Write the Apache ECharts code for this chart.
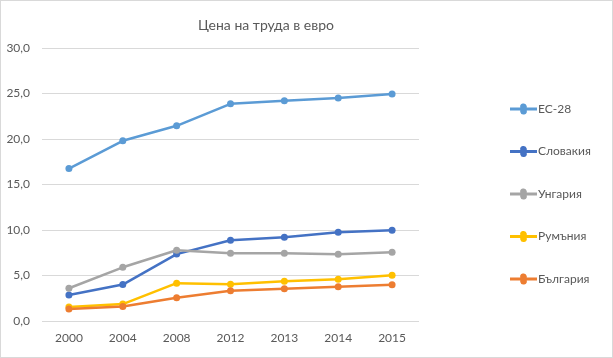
<!DOCTYPE html>
<html><head><meta charset="utf-8">
<script src="https://cdn.jsdelivr.net/npm/echarts@6/dist/echarts.min.js"></script>
<style>html,body{margin:0;padding:0;background:#fff}#c{width:613px;height:358px;box-sizing:border-box;border:1px solid #d9d9d9}</style>
</head><body><div id="c"></div>
<script>
const categories = ['2000','2004','2008','2012','2013','2014','2015'];
const seriesNames = ['ЕС-28','Словакия','Унгария','Румъния','България'];
const eu28 = [16.75, 19.8, 21.45, 23.87, 24.2, 24.5, 24.95];
const slovakia = [2.85, 4.0, 7.35, 8.87, 9.2, 9.74, 9.96];
const hungary = [3.6, 5.9, 7.77, 7.45, 7.45, 7.34, 7.55];
const romania = [1.53, 1.86, 4.16, 4.05, 4.38, 4.6, 5.04];
const bulgaria = [1.31, 1.6, 2.55, 3.33, 3.55, 3.77, 3.97];
const colors = ['#5B9BD5','#4472C4','#A5A5A5','#FFC000','#ED7D31'];
const data = [eu28, slovakia, hungary, romania, bulgaria];
const font = 'Lato, "Liberation Sans", sans-serif';
const chart = echarts.init(document.getElementById('c'));
chart.setOption({
  animation:false,
  color: colors,
  title:{text:'Цена на труда в евро',left:260,top:12,textAlign:'center',textStyle:{fontFamily:font,fontSize:14,fontWeight:'normal',color:'#595959'}},
  grid:{left:41,right:193,top:47,bottom:36},
  legend:{orient:'vertical',left:504,top:97,itemGap:30.5,itemWidth:27,itemHeight:14,
    itemStyle:{borderWidth:0},
    textStyle:{fontFamily:font,fontSize:12,color:'#595959',padding:[0,0,0,-4]},
    data:seriesNames.map((n,i)=>({name:n,icon:'path://M0,5.6H10.2A3.3,3.3,0,1,1,16.6,5.6H26.8V8.4H16.6A3.3,3.3,0,1,1,10.2,8.4H0Z'}))},
  xAxis:{type:'category',data:categories,boundaryGap:true,
    axisLine:{show:false},axisTick:{show:false},
    axisLabel:{fontFamily:font,fontSize:12,color:'#595959',margin:11}},
  yAxis:{type:'value',min:0,max:30,interval:5,
    axisLine:{show:false},axisTick:{show:false},
    splitLine:{lineStyle:{color:'#d9d9d9',width:1}},
    axisLabel:{fontFamily:font,fontSize:12,color:'#595959',margin:12,formatter:v=>v.toFixed(1).replace('.',',')}},
  series: seriesNames.map((n,i)=>({name:n,type:'line',data:data[i],symbol:'circle',symbolSize:7,
    lineStyle:{width:2.5,color:colors[i]},itemStyle:{color:colors[i]}}))
});
</script></body></html>
